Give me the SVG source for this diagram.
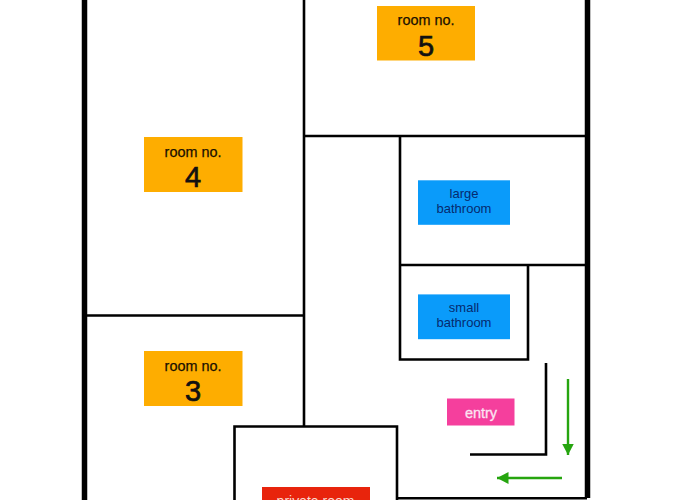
<svg xmlns="http://www.w3.org/2000/svg" width="700" height="500" viewBox="0 0 700 500">
<style>
text{font-family:"Liberation Sans",Arial,sans-serif;text-anchor:middle}
.w{fill:none;stroke:#000;stroke-width:2.6}
.o{stroke:#000;stroke-width:5.500;fill:none}
.or{fill:#fead00}.bl{fill:#0a9bfa}
.s{font-size:14.400px;fill:#1a1000;stroke:#1a1000;stroke-width:.25}
.b{font-size:29px;fill:#111;stroke:#111;stroke-width:.7}
.d{font-size:13px;fill:#062a6e}
.g{stroke:#26a50f;stroke-width:2.400;fill:none}
</style>
<defs><marker id="a" markerUnits="userSpaceOnUse" markerWidth="13" markerHeight="13" refX="11.500" refY="6" orient="auto"><path d="M0 0L11.500 6L0 12z" fill="#26a50f"/></marker></defs>
<rect width="700" height="500" fill="#fff"/>
<g id="walls">
<path class="o" d="M84.500 0V500M587.500 0V498"/>
<path class="w" d="M304 0V427M85 315.500H304M304 136H587M400 136V359.500H528V265M400 265H587M234.500 500V426.500H397V500M397 498.300H587M546 363V454.500H470"/>
</g>
<g id="connectors">
<path class="g" d="M568 379V455" marker-end="url(#a)"/>
<path class="g" d="M562 478H497" marker-end="url(#a)"/>
</g>
<g id="room5"><rect class="or" x="377" y="6" width="98" height="54.500"/><text class="s" x="426" y="25">room no.</text><text class="b" x="426" y="56">5</text></g>
<g id="room4"><rect class="or" x="144" y="137" width="98.500" height="55"/><text class="s" x="193" y="156.500">room no.</text><text class="b" x="193" y="187">4</text></g>
<g id="room3"><rect class="or" x="144" y="351" width="98.500" height="55"/><text class="s" x="193" y="370.500">room no.</text><text class="b" x="193" y="401">3</text></g>
<g id="large-bathroom"><rect class="bl" x="418" y="180.300" width="92" height="44.500"/><text class="d" x="464" y="197.500">large</text><text class="d" x="464" y="212.700">bathroom</text></g>
<g id="small-bathroom"><rect class="bl" x="418" y="294.400" width="92" height="44.800"/><text class="d" x="464" y="311.700">small</text><text class="d" x="464" y="326.800">bathroom</text></g>
<g id="entry"><rect x="447" y="398.500" width="67.500" height="27" fill="#f53f9d"/><text x="481" y="418" font-size="14.500" fill="#fbe4f2" stroke="#fbe4f2" stroke-width=".3">entry</text></g>
<g id="private-room"><rect x="262" y="487" width="108" height="20" fill="#e8240c"/><text x="315.500" y="505.500" font-size="14" fill="#fbd9d0">private room</text></g>
</svg>
